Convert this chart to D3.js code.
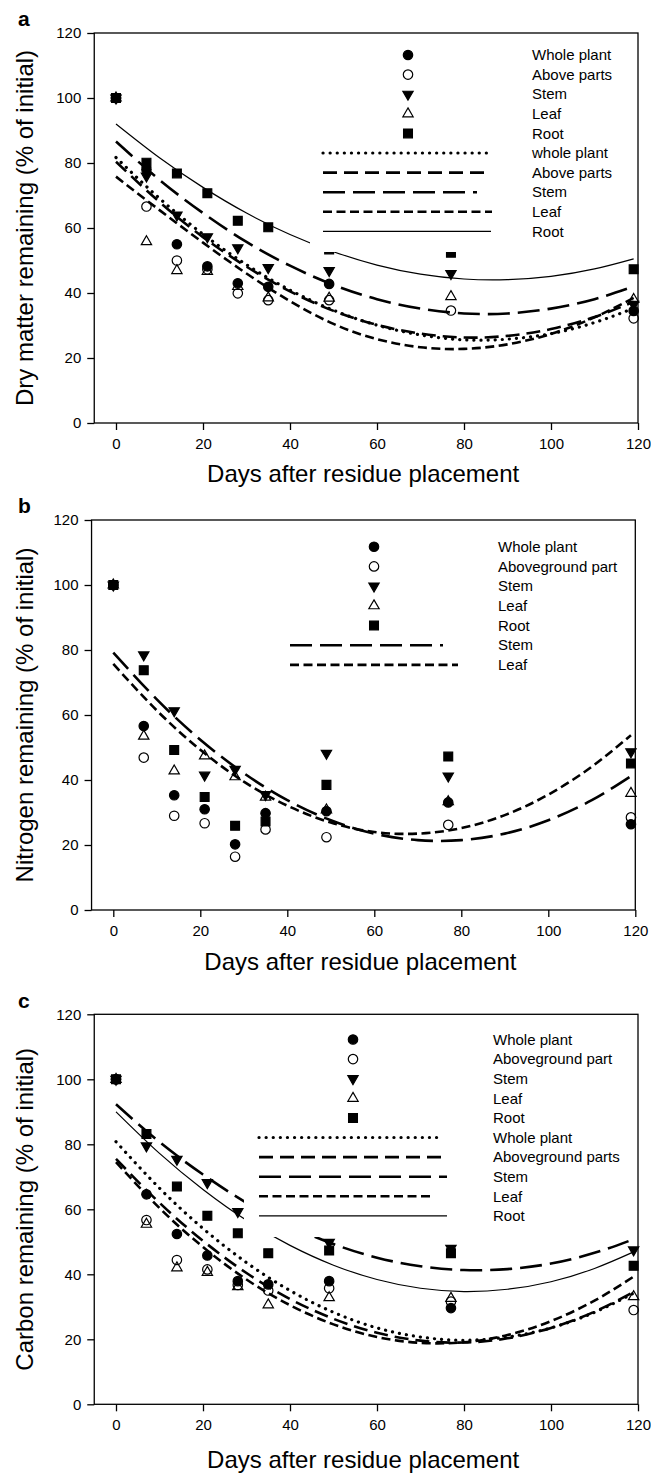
<!DOCTYPE html>
<html>
<head>
<meta charset="utf-8">
<script src="https://cdn.jsdelivr.net/npm/d3@7"></script>
<style>
body { margin: 0; background: #fff; }
svg { display: block; }
text { font-family: "Liberation Sans", Arial, sans-serif; fill: #000; }
</style>
</head>
<body>
<svg id="chart" width="651" height="1473"></svg>
<script>
/* global d3 */

/////////////////////////////////////////////////////////////////////////
// data

var days = [0, 7, 14, 21, 28, 35, 49, 77, 119]
var fitDays = [0, 10, 20, 30, 40, 50, 60, 70, 80, 90, 100, 110, 119]
var xTicks = [0, 20, 40, 60, 80, 100, 120]
var yTicks = [0, 20, 40, 60, 80, 100, 120]

// a: dry matter
var dmWhole = [100, 78.0, 55.0, 48.2, 43.0, 41.9, 42.8, null, 34.5]
var dmAbove = [100, 66.6, 50.0, 47.3, 39.9, 37.8, 37.8, 34.6, 32.2]
var dmStem  = [100, 76.0, 64.0, 57.3, 53.9, 47.8, 46.9, 46.0, 36.5]
var dmLeaf  = [100, 55.8, 46.9, 46.6, 42.0, 38.5, 38.4, 38.9, 38.0]
var dmRoot  = [100, 80.1, 76.8, 70.7, 62.2, 60.2, 53.4, 52.4, 47.3]

var dmFitWhole = [81.7, 69.1, 58.1, 48.7, 40.9, 34.7, 30.1, 27.1, 25.6, 25.8, 27.5, 30.9, 35.3]
var dmFitAbove = [80.4, 68.0, 57.2, 48.1, 40.5, 34.5, 30.2, 27.5, 26.3, 26.8, 28.9, 32.6, 37.3]
var dmFitStem  = [86.6, 74.8, 64.6, 55.7, 48.4, 42.5, 38.1, 35.2, 33.7, 33.7, 35.2, 38.1, 42.0]
var dmFitLeaf  = [75.8, 65.5, 55.5, 46.0, 37.5, 30.5, 25.8, 23.3, 22.8, 24.2, 27.4, 32.5, 38.5]
var dmFitRoot  = [92.0, 81.6, 72.5, 64.6, 58.0, 52.7, 48.6, 45.8, 44.3, 44.1, 45.1, 47.4, 50.5]

var dmMarkerNames = ['Whole plant', 'Above parts', 'Stem', 'Leaf', 'Root']
var dmLineNames = ['whole plant', 'Above parts', 'Stem', 'Leaf', 'Root']

// b: nitrogen
var nWhole = [100, 56.6, 35.3, 31.0, 20.2, 29.8, 30.4, 33.1, 26.4]
var nAbove = [100, 46.9, 29.0, 26.7, 16.4, 24.8, 22.4, 26.2, 28.5]
var nStem  = [100, 78.5, 61.3, 41.5, 43.3, 35.5, 48.2, 41.2, 48.7]
var nLeaf  = [100, 53.5, 42.8, 47.4, 41.0, 34.7, 30.8, 33.3, 35.9]
var nRoot  = [100, 73.8, 49.2, 34.8, 25.9, 27.2, 38.5, 47.2, 45.1]

var nFitStem = [79.2, 64.8, 52.4, 42.1, 33.8, 27.6, 23.5, 21.5, 21.5, 23.5, 27.6, 33.8, 41.2]
var nFitLeaf = [75.7, 61.4, 49.3, 39.5, 32.1, 26.9, 24.0, 23.5, 25.2, 29.2, 35.5, 44.1, 53.8]

var nMarkerNames = ['Whole plant', 'Aboveground part', 'Stem', 'Leaf', 'Root']
var nLineNames = ['Stem', 'Leaf']

// c: carbon
var cWhole = [100, 64.6, 52.4, 45.8, 37.9, 36.9, 37.9, 29.6, null]
var cAbove = [100, 56.7, 44.4, 41.5, 36.7, 35.0, 35.7, 31.6, 29.0]
var cStem  = [100, 79.5, 75.4, 68.2, 59.3, null, 49.8, 48.0, 47.5]
var cLeaf  = [100, 55.4, 42.0, 40.6, 36.2, 30.6, 32.8, 32.6, 33.1]
var cRoot  = [100, 83.2, 67.0, 58.0, 52.6, 46.5, 47.3, 46.5, 42.6]

var cFitWhole = [80.8, 66.5, 54.1, 43.6, 35.0, 28.3, 23.5, 20.7, 19.7, 20.7, 23.5, 28.3, 34.2]
var cFitAbove = [75.5, 62.0, 50.3, 40.4, 32.4, 26.3, 22.0, 19.6, 19.0, 20.3, 23.5, 28.5, 34.6]
var cFitStem  = [92.3, 80.7, 70.7, 62.0, 54.9, 49.3, 45.1, 42.5, 41.3, 41.6, 43.3, 46.6, 50.8]
var cFitLeaf  = [74.5, 60.4, 48.4, 38.4, 30.5, 24.6, 20.7, 18.9, 19.1, 21.3, 25.6, 31.9, 39.3]
var cFitRoot  = [90.0, 77.2, 66.1, 56.6, 48.9, 42.8, 38.4, 35.7, 34.7, 35.4, 37.7, 41.8, 46.9]

var cMarkerNames = ['Whole plant', 'Aboveground part', 'Stem', 'Leaf', 'Root']
var cLineNames = ['Whole plant', 'Aboveground parts', 'Stem', 'Leaf', 'Root']

/////////////////////////////////////////////////////////////////////////
// styles

var markerStyle = {
	whole: {type: d3.symbolCircle, size: 70, fill: '#000', rot: 0},
	above: {type: d3.symbolCircle, size: 70, fill: 'none', rot: 0},
	stem: {type: d3.symbolTriangle, size: 46, fill: '#000', rot: 180},
	leaf: {type: d3.symbolTriangle, size: 46, fill: 'none', rot: 0},
	root: {type: d3.symbolSquare, size: 78, fill: '#000', rot: 0}
}

var lineStyle = {
	whole: {dash: '0.1,7', width: 3.2, cap: 'round'},
	above: {dash: '14,7', width: 2.6, cap: 'butt'},
	stem: {dash: '22,8', width: 2.6, cap: 'butt'},
	leaf: {dash: '9,4.5', width: 2.6, cap: 'butt'},
	root: {dash: null, width: 1.2, cap: 'butt'}
}

var order = ['root', 'stem', 'whole', 'above', 'leaf']
var legendOrder = ['whole', 'above', 'stem', 'leaf', 'root']

var panels = [
	{
		label: 'a', labelY: 26, title: 'Dry matter remaining (% of initial)',
		top: 33, bottom: 423, left: 94.25, right: 638, xTitleY: 482,
		points: {whole: dmWhole, above: dmAbove, stem: dmStem, leaf: dmLeaf, root: dmRoot},
		fits: [['whole', dmFitWhole], ['above', dmFitAbove], ['stem', dmFitStem], ['leaf', dmFitLeaf], ['root', dmFitRoot]],
		markerNames: dmMarkerNames, lineNames: dmLineNames,
		legend: {mx: 408, tx: 532, y0: 55, dy: 19.6, lx0: 323, lx1: [487, 487, 477, 492, 491]},
		box: [310, 40, 632, 252]
	},
	{
		label: 'b', labelY: 513, title: 'Nitrogen remaining (% of initial)',
		top: 520, bottom: 910, left: 91.55, right: 635.3, xTitleY: 970,
		points: {whole: nWhole, above: nAbove, stem: nStem, leaf: nLeaf, root: nRoot},
		fits: [['stem', nFitStem], ['leaf', nFitLeaf]],
		markerNames: nMarkerNames, lineNames: nLineNames,
		legend: {mx: 374, tx: 498, y0: 546.7, dy: 19.7, lx0: 290, lx1: [443, 458]},
		box: null
	},
	{
		label: 'c', labelY: 1008, title: 'Carbon remaining (% of initial)',
		top: 1014.3, bottom: 1404.3, left: 94.25, right: 638, xTitleY: 1468,
		points: {whole: cWhole, above: cAbove, stem: cStem, leaf: cLeaf, root: cRoot},
		fits: [['whole', cFitWhole], ['above', cFitAbove], ['stem', cFitStem], ['leaf', cFitLeaf], ['root', cFitRoot]],
		markerNames: cMarkerNames, lineNames: cLineNames,
		legend: {mx: 353, tx: 493, y0: 1039.5, dy: 19.6, lx0: 259, lx1: [440, 447, 447, 432, 447]},
		box: [244, 1025, 632, 1237]
	}
]

/////////////////////////////////////////////////////////////////////////
// drawing

var svg = d3.select('#chart')

function symbolPath(key) {
	var m = markerStyle[key]
	return d3.symbol().type(m.type).size(m.size)()
}

function drawMarker(g, key, px, py) {
	var m = markerStyle[key]
	g.append('path')
		.attr('d', symbolPath(key))
		.attr('transform', 'translate(' + px + ',' + py + ') rotate(' + m.rot + ')')
		.attr('fill', m.fill)
		.attr('stroke', '#000')
		.attr('stroke-width', 1.2)
}

function styleLine(sel, key) {
	var s = lineStyle[key]
	sel.attr('fill', 'none')
		.attr('stroke', '#000')
		.attr('stroke-width', s.width)
		.attr('stroke-linecap', s.cap)
	if (s.dash) sel.attr('stroke-dasharray', s.dash)
}

panels.forEach(function(p) {
	var x = d3.scaleLinear().domain([-5, 120]).range([p.left, p.right])
	var y = d3.scaleLinear().domain([0, 120]).range([p.bottom, p.top])
	var g = svg.append('g')

	// fitted curves
	var line = d3.line()
		.x(function(d) { return x(d[0]) })
		.y(function(d) { return y(d[1]) })
		.curve(d3.curveNatural)

	p.fits.forEach(function(f) {
		var pts = fitDays.map(function(d, i) { return [d, f[1][i]] })
		g.append('path').datum(pts).attr('d', line).call(styleLine, f[0])
	})

	// data points
	order.forEach(function(key) {
		var vals = p.points[key]
		days.forEach(function(d, i) {
			if (vals[i] == null) return
			drawMarker(g, key, x(d), y(vals[i]))
		})
	})

	// legend background
	if (p.box) {
		g.append('rect')
			.attr('x', p.box[0]).attr('y', p.box[1])
			.attr('width', p.box[2] - p.box[0]).attr('height', p.box[3] - p.box[1])
			.attr('fill', '#fff')
	}

	// axes
	var ax = g.append('g')
		.attr('transform', 'translate(0,' + p.bottom + ')')
		.call(d3.axisBottom(x).tickValues(xTicks).tickSize(7).tickPadding(8).tickSizeOuter(0))
	var ay = g.append('g')
		.attr('transform', 'translate(' + p.left + ',0)')
		.call(d3.axisLeft(y).tickValues(yTicks).tickSize(7).tickPadding(6).tickSizeOuter(0))
	;[ax, ay].forEach(function(a) {
		a.select('.domain').remove()
		a.selectAll('line').attr('stroke', '#000').attr('stroke-width', 1.3)
		a.selectAll('text')
			.attr('font-size', 15)
			.attr('font-family', '"Liberation Sans", Arial, sans-serif')
			.attr('fill', '#000')
	})

	g.append('rect')
		.attr('x', p.left).attr('y', p.top)
		.attr('width', p.right - p.left).attr('height', p.bottom - p.top)
		.attr('fill', 'none').attr('stroke', '#000').attr('stroke-width', 1.3)

	// titles
	g.append('text')
		.attr('x', (p.left + p.right) / 2 - 3).attr('y', p.xTitleY)
		.attr('text-anchor', 'middle').attr('font-size', 24)
		.text('Days after residue placement')

	g.append('text')
		.attr('transform', 'translate(33,' + (p.top + p.bottom) / 2 + ') rotate(-90)')
		.attr('text-anchor', 'middle').attr('font-size', 24)
		.text(p.title)

	g.append('text')
		.attr('x', 18).attr('y', p.labelY)
		.attr('font-size', 21).attr('font-weight', 'bold')
		.text(p.label)

	// legend
	var L = p.legend
	p.markerNames.forEach(function(name, i) {
		var ry = L.y0 + i * L.dy
		drawMarker(g, legendOrder[i], L.mx, ry)
		g.append('text').attr('x', L.tx).attr('y', ry).attr('dy', '0.35em')
			.attr('font-size', 15).text(name)
	})
	p.fits.forEach(function(f, j) {
		var ry = L.y0 + (p.markerNames.length + j) * L.dy
		g.append('line')
			.attr('x1', L.lx0).attr('x2', L.lx1[j])
			.attr('y1', ry).attr('y2', ry)
			.call(styleLine, f[0])
		g.append('text').attr('x', L.tx).attr('y', ry).attr('dy', '0.35em')
			.attr('font-size', 15).text(p.lineNames[j])
	})
})
</script>
</body>
</html>
